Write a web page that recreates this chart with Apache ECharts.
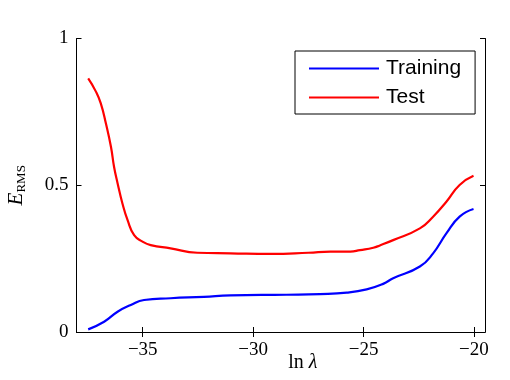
<!DOCTYPE html>
<html><head><meta charset="utf-8">
<script src="https://cdn.jsdelivr.net/npm/echarts@6/dist/echarts.min.js"></script>
<style>html,body{margin:0;padding:0;background:#fff}#c{width:510px;height:380px}</style>
</head><body><div id="c"></div>
<script>
var xTicks = [-35, -30, -25, -20];
var yTicks = [0, 0.5, 1];
var seriesNames = ['Training', 'Test'];
var xTrain = [-37.47, -36.75, -36.14, -35.54, -34.94, -33.74, -32.23, -31.03, -28.5, -26.97, -25.76, -24.86, -24.11, -23.66, -22.45, -21.85, -21.25, -20.65, -20.02];
var yTrain = [0.009, 0.035, 0.069, 0.092, 0.109, 0.115, 0.120, 0.125, 0.127, 0.129, 0.134, 0.145, 0.164, 0.183, 0.223, 0.268, 0.336, 0.393, 0.419];
var xTest = [-37.47, -37.12, -36.90, -36.67, -36.44, -36.30, -36.14, -35.92, -35.69, -35.39, -35.01, -34.64, -33.74, -32.53, -31.03, -29.2, -27.5, -26.5, -25.6, -25.16, -24.56, -24.26, -23.66, -22.45, -21.85, -21.25, -20.65, -20.02];
var yTest = [0.864, 0.819, 0.779, 0.711, 0.631, 0.563, 0.507, 0.438, 0.382, 0.330, 0.308, 0.296, 0.285, 0.270, 0.268, 0.266, 0.270, 0.274, 0.274, 0.279, 0.287, 0.295, 0.313, 0.353, 0.393, 0.444, 0.501, 0.532];

function pairs(xs, ys){ return xs.map(function(x,i){ return [x, ys[i]]; }); }
var serif = 'Liberation Serif';
var minus = function(v){ return String(v).replace('-', '\u2212'); };
var chart = echarts.init(document.getElementById('c'), null, {renderer:'canvas'});
var axisLineStyle = {show:true, lineStyle:{color:'#000', width:1}};
chart.setOption({
  animation:false,
  backgroundColor:'#fff',
  grid:{left:76.5, right:25, top:38.5, bottom:48, containLabel:false, outerBoundsMode:'none'},
  xAxis:[{
    type:'value', position:'bottom', min:-38, max:-19.5,
    axisLine:axisLineStyle,
    axisTick:{show:true, inside:true, length:5, customValues:xTicks, lineStyle:{color:'#000'}},
    axisLabel:{show:true, customValues:xTicks, formatter:minus, color:'#000', fontFamily:serif, fontSize:19, margin:9},
    splitLine:{show:false},
    name:'{i|ln }{l|\u03bb}', nameLocation:'middle', nameGap:21, nameMoveOverlap:false,
    nameTextStyle:{padding:[0,0,0,44], rich:{i:{fontFamily:serif, fontSize:20, color:'#000'}, l:{fontFamily:serif, fontStyle:'italic', fontSize:20, color:'#000'}}}
  },{
    type:'value', position:'top', min:-38, max:-19.5,
    axisLine:axisLineStyle,
    axisTick:{show:true, inside:true, length:5, customValues:xTicks, lineStyle:{color:'#000'}},
    axisLabel:{show:false}, splitLine:{show:false}
  }],
  yAxis:[{
    type:'value', position:'left', min:0, max:1, interval:0.5,
    axisLine:axisLineStyle,
    axisTick:{show:true, inside:true, length:5, customValues:yTicks, lineStyle:{color:'#000'}},
    axisLabel:{show:true, customValues:yTicks, color:'#000', fontFamily:serif, fontSize:19, margin:8},
    splitLine:{show:false},
    name:'{e|E}{s|RMS}', nameLocation:'middle', nameRotate:90, nameGap:50, nameMoveOverlap:false,
    nameTextStyle:{rich:{
      e:{fontFamily:serif, fontStyle:'italic', fontSize:21, color:'#000', verticalAlign:'bottom'},
      s:{fontFamily:serif, fontSize:13, color:'#000', verticalAlign:'bottom', padding:[0,0,-2,0]}
    }}
  },{
    type:'value', position:'right', min:0, max:1, interval:0.5,
    axisLine:axisLineStyle,
    axisTick:{show:true, inside:true, length:5, customValues:yTicks, lineStyle:{color:'#000'}},
    axisLabel:{show:false}, splitLine:{show:false}
  }],
  legend:{
    show:true, orient:'vertical', left:295, top:51,
    padding:[7,14,6,14], itemGap:8, itemWidth:70, itemHeight:2, icon:'rect',
    borderColor:'#000', borderWidth:1, backgroundColor:'#fff', borderRadius:0,
    textStyle:{fontFamily:'Liberation Sans', fontSize:21, color:'#000', padding:[0,0,0,2]},
    data:seriesNames
  },
  series:[
    {name:seriesNames[0], type:'line', data:pairs(xTrain, yTrain), smooth:0.5, showSymbol:false, symbol:'none',
     lineStyle:{color:'#0000ff', width:2.2}, itemStyle:{color:'#0000ff'}, xAxisIndex:0, yAxisIndex:0},
    {name:seriesNames[1], type:'line', data:pairs(xTest, yTest), smooth:0.5, showSymbol:false, symbol:'none',
     lineStyle:{color:'#ff0000', width:2.2}, itemStyle:{color:'#ff0000'}, xAxisIndex:0, yAxisIndex:0}
  ]
});
</script></body></html>
